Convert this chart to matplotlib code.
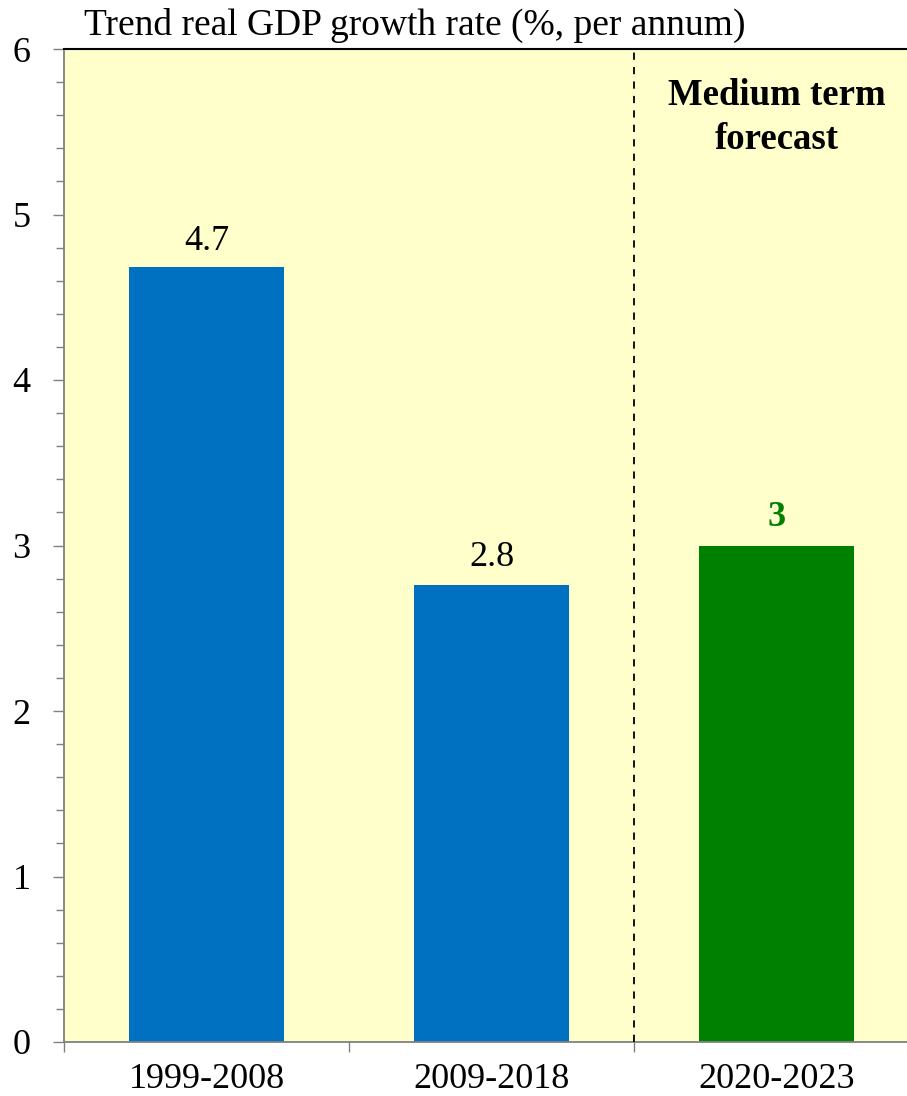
import matplotlib.pyplot as plt
from matplotlib.ticker import MultipleLocator, FixedLocator

periods = ['1999-2008', '2009-2018', '2020-2023']
growth = [4.685, 2.76, 3.0]
labels = ['4.7', '2.8', '3']
colors = ['#0070C0', '#0070C0', '#008000']

plt.rcParams['font.family'] = ['Liberation Serif', 'DejaVu Serif']
fontsize = 26

fig = plt.figure(figsize=(9.07, 10.96), dpi=100)
ax = fig.add_axes([64 / 907, 54 / 1096, 855 / 907, 993 / 1096])
ax.set_facecolor('#FFFFCC')

x = range(len(periods))
ax.bar(x, growth, width=0.545, color=colors, zorder=2)

for i, (v, lab) in enumerate(zip(growth, labels)):
    forecast = i == 2
    ax.annotate(lab, (i, v), xytext=(0, 12 if i == 0 else 14),
                textcoords='offset points', ha='center', va='baseline',
                fontsize=fontsize, color='#008000' if forecast else 'black',
                fontweight='bold' if forecast else 'normal')

ax.axvline(1.5, color='black', linestyle=(0, (4, 4)), linewidth=1.3, zorder=3)
ax.text(2.0, 5.585, 'Medium term\nforecast', ha='center', va='center',
        fontsize=26.5, fontweight='bold', linespacing=1.33)

ax.set_xlim(-0.5, 2.5)
ax.set_ylim(0, 6)

ax.yaxis.set_major_locator(MultipleLocator(1))
ax.yaxis.set_minor_locator(MultipleLocator(0.2))
ax.tick_params(axis='y', which='major', direction='out', length=8, width=1,
               color='#808080', labelsize=fontsize, pad=16)
ax.tick_params(axis='y', which='minor', direction='out', length=6, width=1,
               color='#808080')

ax.xaxis.set_major_locator(FixedLocator([-0.5, 0.5, 1.5]))
ax.xaxis.set_major_formatter(plt.NullFormatter())
ax.xaxis.set_minor_locator(FixedLocator(list(x)))
ax.set_xticklabels(periods, minor=True)
ax.tick_params(axis='x', which='major', direction='out', length=7, width=1,
               color='#808080')
ax.tick_params(axis='x', which='minor', length=0, labelsize=fontsize, pad=15)

for side in ['left', 'bottom']:
    ax.spines[side].set_color('#808080')
    ax.spines[side].set_linewidth(1.3)
ax.spines['top'].set_color('black')
ax.spines['top'].set_linewidth(1.5)
ax.spines['right'].set_visible(False)

fig.text(84 / 907, 1 - 25 / 1096, 'Trend real GDP growth rate (%, per annum)',
         ha='left', va='center', fontsize=27)

fig.savefig('out.png', dpi=100)
